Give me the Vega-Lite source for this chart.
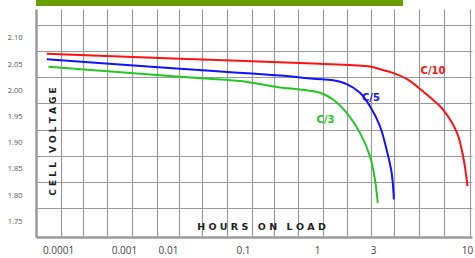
{
  "$schema": "https://vega.github.io/schema/vega-lite/v6.json",
  "width": 436,
  "height": 228,
  "autosize": {"type": "none"},
  "padding": {"left": 36, "top": 9, "right": 3, "bottom": 21},
  "background": "white",
  "config": {"view": {"stroke": null}, "axis": {"labelOverlap": false}},
  "datasets": {
    "curves": [
      {"series": "C/10", "hours": 0.0000674, "volts": 2.0695},
      {"series": "C/10", "hours": 0.01445, "volts": 2.0599},
      {"series": "C/10", "hours": 1.061, "volts": 2.0504},
      {"series": "C/10", "hours": 2.828, "volts": 2.0452},
      {"series": "C/10", "hours": 3.33, "volts": 2.0395},
      {"series": "C/10", "hours": 3.87, "volts": 2.0332},
      {"series": "C/10", "hours": 4.69, "volts": 2.0204},
      {"series": "C/10", "hours": 5.46, "volts": 2.0030},
      {"series": "C/10", "hours": 6.3, "volts": 1.9850},
      {"series": "C/10", "hours": 7.35, "volts": 1.9632},
      {"series": "C/10", "hours": 8.79, "volts": 1.9193},
      {"series": "C/10", "hours": 9.52, "volts": 1.8735},
      {"series": "C/10", "hours": 10.07, "volts": 1.8169},
      {"series": "C/5", "hours": 0.0000674, "volts": 2.0592},
      {"series": "C/5", "hours": 0.01445, "volts": 2.0409},
      {"series": "C/5", "hours": 0.316, "volts": 2.0281},
      {"series": "C/5", "hours": 0.883, "volts": 2.0218},
      {"series": "C/5", "hours": 1.369, "volts": 2.0190},
      {"series": "C/5", "hours": 1.791, "volts": 2.0118},
      {"series": "C/5", "hours": 2.324, "volts": 1.9951},
      {"series": "C/5", "hours": 2.828, "volts": 1.9695},
      {"series": "C/5", "hours": 3.281, "volts": 1.9313},
      {"series": "C/5", "hours": 3.57, "volts": 1.8869},
      {"series": "C/5", "hours": 3.81, "volts": 1.8424},
      {"series": "C/5", "hours": 3.92, "volts": 1.7915},
      {"series": "C/3", "hours": 0.0000713, "volts": 2.0447},
      {"series": "C/3", "hours": 0.01445, "volts": 2.0256},
      {"series": "C/3", "hours": 0.0912, "volts": 2.0176},
      {"series": "C/3", "hours": 0.316, "volts": 2.0052},
      {"series": "C/3", "hours": 0.589, "volts": 2.0014},
      {"series": "C/3", "hours": 1.061, "volts": 1.9951},
      {"series": "C/3", "hours": 1.369, "volts": 1.9823},
      {"series": "C/3", "hours": 1.791, "volts": 1.9569},
      {"series": "C/3", "hours": 2.324, "volts": 1.9187},
      {"series": "C/3", "hours": 2.828, "volts": 1.8741},
      {"series": "C/3", "hours": 3.077, "volts": 1.8296},
      {"series": "C/3", "hours": 3.187, "volts": 1.7852}
    ],
    "labels": [
      {"series": "C/10", "hours": 6.47, "volts": 2.0376},
      {"series": "C/5", "hours": 2.884, "volts": 1.9861},
      {"series": "C/3", "hours": 1.181, "volts": 1.9428}
    ]
  },
  "layer": [
    {
      "data": {"values": [{"g": 0}]},
      "mark": {"type": "point", "opacity": 0},
      "encoding": {
        "x": {
          "datum": 9, "type": "quantitative",
          "scale": {"type": "linear", "domain": [0, 18], "nice": false, "zero": false},
          "axis": {"orient": "top", "values": [1.02, 1.95, 2.92, 3.95, 4.98, 5.92, 6.87, 7.9, 8.91, 9.84, 10.83, 11.84, 12.85, 13.82, 14.78, 15.81, 16.84, 17.92], "grid": true, "gridColor": "#9a9a9a", "gridWidth": 1.2, "gridOpacity": 1, "labels": false, "ticks": false, "domain": false, "title": null}
        },
        "y": {
          "datum": 2.0, "type": "quantitative",
          "scale": {"domain": [1.72, 2.155], "nice": false, "zero": false},
          "axis": {"orient": "right", "values": [2.125, 2.075, 2.025, 1.975, 1.925, 1.875, 1.825, 1.775], "grid": true, "gridColor": "#9a9a9a", "gridWidth": 1.2, "gridOpacity": 1, "labels": false, "ticks": false, "domain": false, "title": null}
        }
      }
    },
    {
      "layer": [
        {
          "data": {"name": "curves"},
          "mark": {"type": "line", "strokeWidth": 2, "interpolate": "catmull-rom"},
          "encoding": {
            "x": {
              "field": "hours", "type": "quantitative",
              "scale": {"type": "log", "domain": [0.000046, 0.0001, 0.001, 0.01, 0.1, 1, 3, 10, 10.7], "range": [0, 22, 88, 132, 207, 281, 337, 431, 436], "nice": false, "zero": false},
              "axis": {"orient": "bottom", "values": [0.0001, 0.001, 0.01, 0.1, 1, 3, 10], "format": "~g", "grid": false, "ticks": false, "domain": true, "domainColor": "#9a9a9a", "domainWidth": 2.5, "labelPadding": 8, "labelFont": "Open Sans", "labelFontSize": 10, "labelColor": "#444444", "labelFlush": false, "labelOverlap": false,
                "title": "H O U R S\u2003O N\u2003L O A D", "titleFont": "DejaVu Sans", "titleFontSize": 9.5, "titleFontWeight": "bold", "titleColor": "#222222", "titleX": 225, "titleY": -11, "titleBaseline": "middle", "titleAlign": "center"}
            },
            "y": {
              "field": "volts", "type": "quantitative",
              "scale": {"domain": [1.72, 2.155], "nice": false, "zero": false},
              "axis": {"orient": "left", "values": [1.75, 1.8, 1.85, 1.9, 1.95, 2.0, 2.05, 2.1], "format": ".2f", "grid": false, "ticks": false, "domain": true, "domainColor": "#9a9a9a", "domainWidth": 2.5, "labelPadding": 14, "labelFont": "Open Sans", "labelFontSize": 7.5, "labelColor": "#555555", "labelOverlap": false, "labelSeparation": 0, "labelBound": false,
                "title": "C E L L\u2003V O L T A G E", "titleFont": "DejaVu Sans", "titleFontSize": 9, "titleFontWeight": "bold", "titleColor": "#222222", "titleX": 16, "titleY": 132, "titleAngle": -90, "titleBaseline": "middle", "titleAlign": "center"}
            },
            "color": {"field": "series", "type": "nominal", "scale": {"domain": ["C/10", "C/5", "C/3"], "range": ["#ff1111", "#1111ff", "#22c822"]}, "legend": null}
          }
        },
        {
          "data": {"values": [{"b": 1}]},
          "mark": {"type": "rect", "color": "#6a9e00", "clip": false},
          "encoding": {
            "x": {"datum": 0.000046, "type": "quantitative",
              "axis": {"orient": "bottom", "values": [0.0001, 0.001, 0.01, 0.1, 1, 3, 10], "format": "~g", "grid": false, "ticks": false, "domain": true, "domainColor": "#9a9a9a", "domainWidth": 2.5, "labelPadding": 8, "labelFont": "Open Sans", "labelFontSize": 10, "labelColor": "#444444", "labelFlush": false, "labelOverlap": false,
                "title": "H O U R S\u2003O N\u2003L O A D", "titleFont": "DejaVu Sans", "titleFontSize": 9.5, "titleFontWeight": "bold", "titleColor": "#222222", "titleX": 225, "titleY": -11, "titleBaseline": "middle", "titleAlign": "center"}},
            "x2": {"datum": 4.41},
            "y": {"datum": 2.1725, "type": "quantitative",
              "axis": {"orient": "left", "values": [1.75, 1.8, 1.85, 1.9, 1.95, 2.0, 2.05, 2.1], "format": ".2f", "grid": false, "ticks": false, "domain": true, "domainColor": "#9a9a9a", "domainWidth": 2.5, "labelPadding": 14, "labelFont": "Open Sans", "labelFontSize": 7.5, "labelColor": "#555555", "labelOverlap": false, "labelSeparation": 0, "labelBound": false,
                "title": "C E L L\u2003V O L T A G E", "titleFont": "DejaVu Sans", "titleFontSize": 9, "titleFontWeight": "bold", "titleColor": "#222222", "titleX": 16, "titleY": 132, "titleAngle": -90, "titleBaseline": "middle", "titleAlign": "center"}},
            "y2": {"datum": 2.1607}
          }
        },
        {
          "data": {"name": "labels"},
          "mark": {"type": "text", "font": "DejaVu Sans", "fontWeight": "bold", "fontSize": 10, "align": "center", "baseline": "middle"},
          "encoding": {
            "x": {"field": "hours", "type": "quantitative",
              "axis": {"orient": "bottom", "values": [0.0001, 0.001, 0.01, 0.1, 1, 3, 10], "format": "~g", "grid": false, "ticks": false, "domain": true, "domainColor": "#9a9a9a", "domainWidth": 2.5, "labelPadding": 8, "labelFont": "Open Sans", "labelFontSize": 10, "labelColor": "#444444", "labelFlush": false, "labelOverlap": false,
                "title": "H O U R S\u2003O N\u2003L O A D", "titleFont": "DejaVu Sans", "titleFontSize": 9.5, "titleFontWeight": "bold", "titleColor": "#222222", "titleX": 225, "titleY": -11, "titleBaseline": "middle", "titleAlign": "center"}},
            "y": {"field": "volts", "type": "quantitative",
              "axis": {"orient": "left", "values": [1.75, 1.8, 1.85, 1.9, 1.95, 2.0, 2.05, 2.1], "format": ".2f", "grid": false, "ticks": false, "domain": true, "domainColor": "#9a9a9a", "domainWidth": 2.5, "labelPadding": 14, "labelFont": "Open Sans", "labelFontSize": 7.5, "labelColor": "#555555", "labelOverlap": false, "labelSeparation": 0, "labelBound": false,
                "title": "C E L L\u2003V O L T A G E", "titleFont": "DejaVu Sans", "titleFontSize": 9, "titleFontWeight": "bold", "titleColor": "#222222", "titleX": 16, "titleY": 132, "titleAngle": -90, "titleBaseline": "middle", "titleAlign": "center"}},
            "text": {"field": "series"},
            "color": {"field": "series", "type": "nominal", "scale": {"domain": ["C/10", "C/5", "C/3"], "range": ["#dd0a0a", "#1a1ae0", "#33c433"]}, "legend": null}
          }
        }
      ]
    }
  ],
  "resolve": {"scale": {"x": "independent"}, "axis": {"x": "independent", "y": "independent"}}
}
